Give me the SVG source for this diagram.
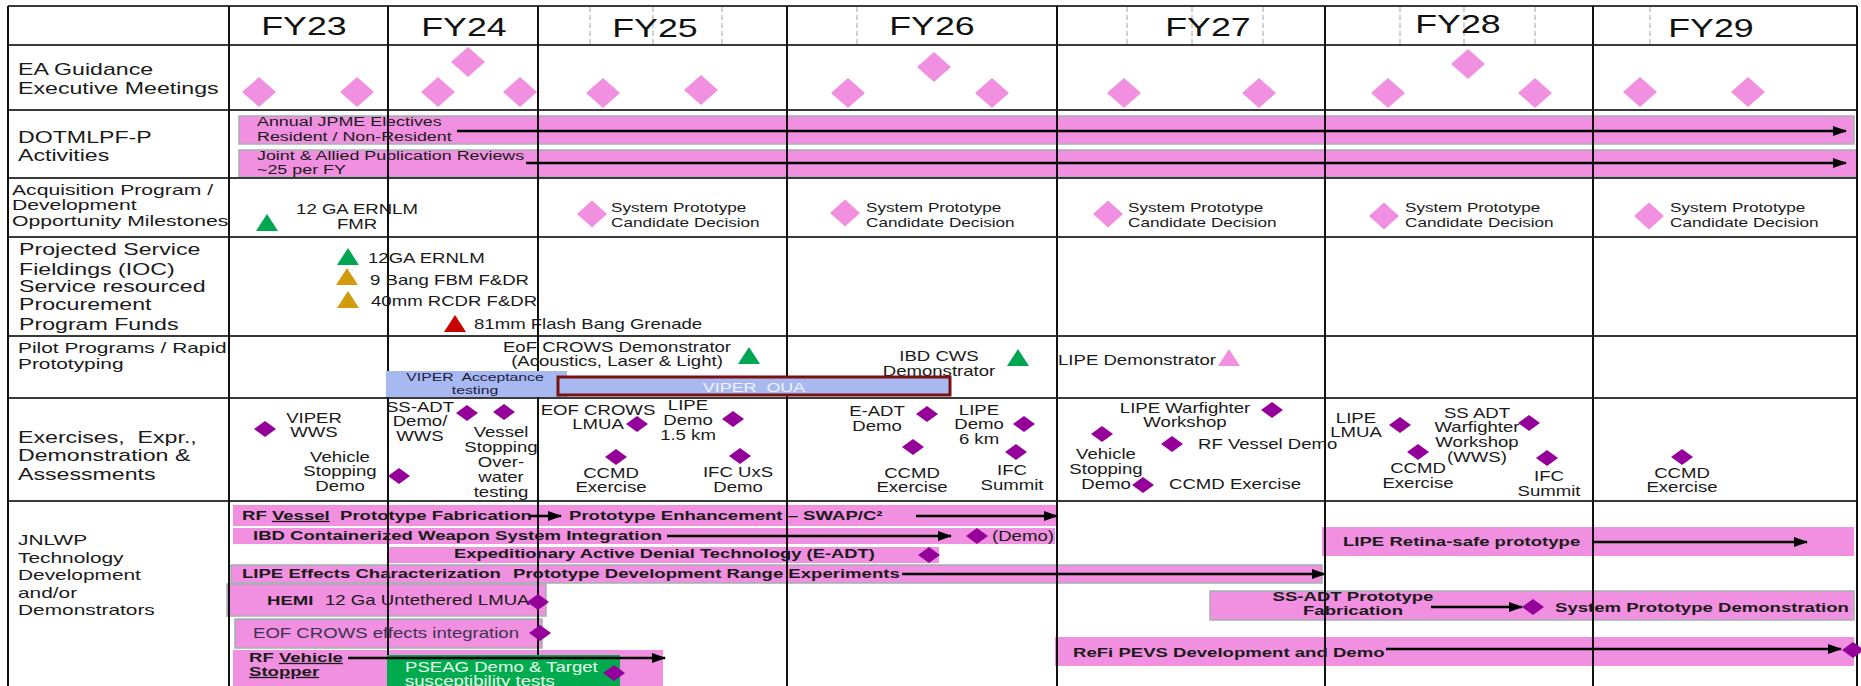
<svg xmlns="http://www.w3.org/2000/svg" width="1861" height="686" viewBox="0 0 1861 686">
<style>
text{font-family:"Liberation Sans",Arial,sans-serif;fill:#1a1a1a}
.b{font-weight:bold}
.m{text-anchor:middle}
.pre{white-space:pre}
.hd{font-size:25px;fill:#111}
.f16{font-size:16.2px}
.f148{font-size:14.8px}
.f145{font-size:14.6px}
.f13{font-size:13.8px}
.fb{font-size:13.3px;font-weight:bold}
.f125{font-size:13.3px}
.f12{font-size:12.8px}
.f11{font-size:11.7px}
.bar{fill:#F190E0}
.barg{fill:#F190E0;stroke:#A3B0B0;stroke-width:1.5}
.vg{stroke:#111;stroke-width:2}
.hg{stroke:#3a3a3a;stroke-width:2}
.dash{stroke:#c4c4c4;stroke-width:1.5;stroke-dasharray:5 3}
.arr{stroke:#000;stroke-width:2.5;fill:none;marker-end:url(#ah)}
.pk{fill:#F190E0}
.pu{fill:#96009A}
</style>
<defs>
<marker id="ah" markerUnits="userSpaceOnUse" markerWidth="14" markerHeight="10" refX="13" refY="5" orient="auto"><path d="M0,0 L14,5 L0,10Z" fill="#000"/></marker>
<path id="de" d="M0,-15 L17,0 L0,15 L-17,0Z"/>
<path id="ds" d="M0,-13.5 L15,0 L0,13.5 L-15,0Z"/>
<path id="dp" d="M0,-8 L11,0 L0,8 L-11,0Z"/>
<path id="tr" d="M0,-9 L11,8 L-11,8Z"/>
</defs>
<rect x="0" y="0" width="1861" height="686" fill="#fff"/>

<g id="bars">
<rect class="barg" x="239" y="116" width="1615" height="28"/>
<rect class="barg" x="239" y="150" width="1618" height="27"/>
<rect class="bar" x="233" y="505" width="823" height="21"/>
<rect class="bar" x="233" y="528" width="822" height="16"/>
<rect class="bar" x="389" y="547" width="550" height="16"/>
<rect class="barg" x="231" y="565" width="1091" height="18"/>
<rect class="barg" x="227" y="584" width="319" height="32"/>
<rect class="barg" x="235" y="619" width="307" height="29"/>
<rect class="bar" x="233" y="650" width="430" height="36"/>
<rect class="bar" x="1322" y="527" width="532" height="29"/>
<rect class="barg" x="1210" y="591" width="644" height="29"/>
<rect class="bar" x="1055" y="637" width="799" height="29"/>
</g>

<g id="grid">
<line class="dash" x1="590" y1="7" x2="590" y2="45"/>
<line class="dash" x1="653" y1="7" x2="653" y2="45"/>
<line class="dash" x1="722" y1="7" x2="722" y2="45"/>
<line class="dash" x1="857" y1="7" x2="857" y2="45"/>
<line class="dash" x1="1127" y1="7" x2="1127" y2="45"/>
<line class="dash" x1="1192" y1="7" x2="1192" y2="45"/>
<line class="dash" x1="1263" y1="7" x2="1263" y2="45"/>
<line class="dash" x1="1400" y1="7" x2="1400" y2="45"/>
<line class="dash" x1="1464" y1="7" x2="1464" y2="45"/>
<line class="dash" x1="1535" y1="7" x2="1535" y2="45"/>
<line class="dash" x1="1650" y1="7" x2="1650" y2="45"/>
<line class="hg" x1="8" y1="6" x2="1857" y2="6"/>
<line class="hg" x1="8" y1="45" x2="1857" y2="45"/>
<line class="hg" x1="8" y1="110" x2="1857" y2="110"/>
<line class="hg" x1="8" y1="178" x2="1857" y2="178"/>
<line class="hg" x1="8" y1="237" x2="1857" y2="237"/>
<line class="hg" x1="8" y1="336" x2="1857" y2="336"/>
<line class="hg" x1="8" y1="398" x2="1857" y2="398"/>
<line class="hg" x1="8" y1="501" x2="1857" y2="501"/>
<line class="vg" x1="8" y1="6" x2="8" y2="686"/>
<line class="vg" x1="229" y1="6" x2="229" y2="686"/>
<line class="vg" x1="388" y1="6" x2="388" y2="686"/>
<line class="vg" x1="538" y1="6" x2="538" y2="686"/>
<line class="vg" x1="787" y1="6" x2="787" y2="686"/>
<line class="vg" x1="1057" y1="6" x2="1057" y2="686"/>
<line class="vg" x1="1325" y1="6" x2="1325" y2="686"/>
<line class="vg" x1="1593" y1="6" x2="1593" y2="686"/>
<line class="vg" x1="1857" y1="6" x2="1857" y2="686"/>
</g>

<g id="header">
<text class="hd m" transform="translate(304 35) scale(1.43 1)">FY23</text>
<text class="hd m" transform="translate(464 36) scale(1.43 1)">FY24</text>
<text class="hd m" transform="translate(655 37) scale(1.43 1)">FY25</text>
<text class="hd m" transform="translate(932 35) scale(1.43 1)">FY26</text>
<text class="hd m" transform="translate(1208 36) scale(1.43 1)">FY27</text>
<text class="hd m" transform="translate(1458 33) scale(1.43 1)">FY28</text>
<text class="hd m" transform="translate(1711 37) scale(1.43 1)">FY29</text>
</g>

<g id="row-ea">
<text class="f16" transform="translate(18 75) scale(1.43 1)"><tspan x="0">EA Guidance</tspan><tspan x="0" y="19">Executive Meetings</tspan></text>
<use href="#de" class="pk" x="259" y="92"/>
<use href="#de" class="pk" x="357" y="92"/>
<use href="#de" class="pk" x="438" y="92"/>
<use href="#de" class="pk" x="468" y="62"/>
<use href="#de" class="pk" x="520" y="92"/>
<use href="#de" class="pk" x="603" y="93"/>
<use href="#de" class="pk" x="701" y="90"/>
<use href="#de" class="pk" x="848" y="93"/>
<use href="#de" class="pk" x="934" y="67"/>
<use href="#de" class="pk" x="992" y="93"/>
<use href="#de" class="pk" x="1124" y="93"/>
<use href="#de" class="pk" x="1259" y="93"/>
<use href="#de" class="pk" x="1388" y="93"/>
<use href="#de" class="pk" x="1468" y="64"/>
<use href="#de" class="pk" x="1535" y="93"/>
<use href="#de" class="pk" x="1640" y="92"/>
<use href="#de" class="pk" x="1748" y="92"/>
</g>

<g id="row-dotmlpf">
<text class="f16" transform="translate(18 143) scale(1.43 1)"><tspan x="0">DOTMLPF-P</tspan><tspan x="0" y="18">Activities</tspan></text>
<text class="f125" transform="translate(257 126) scale(1.344 1)"><tspan x="0">Annual JPME Electives</tspan><tspan x="0" y="15">Resident / Non-Resident</tspan></text>
<text class="f125" transform="translate(257 160) scale(1.344 1)"><tspan x="0">Joint &amp; Allied Publication Reviews</tspan><tspan x="0" y="14">~25 per FY</tspan></text>
</g>

<g id="row-acquisition">
<text class="f148" transform="translate(12 195) scale(1.43 1)"><tspan x="0">Acquisition Program /</tspan><tspan x="0" y="15">Development</tspan><tspan x="0" y="31">Opportunity Milestones</tspan></text>
<use href="#tr" fill="#00A650" x="267" y="223"/>
<text class="f13 m" transform="translate(357 214) scale(1.347 1)"><tspan x="0">12 GA ERNLM</tspan><tspan x="0" y="15">FMR</tspan></text>
<use href="#ds" class="pk" x="592" y="214"/>
<text class="f12" transform="translate(611 212) scale(1.34 1)"><tspan x="0">System Prototype</tspan><tspan x="0" y="15">Candidate Decision</tspan></text>
<use href="#ds" class="pk" x="845" y="213"/>
<text class="f12" transform="translate(866 212) scale(1.34 1)"><tspan x="0">System Prototype</tspan><tspan x="0" y="15">Candidate Decision</tspan></text>
<use href="#ds" class="pk" x="1108" y="214"/>
<text class="f12" transform="translate(1128 212) scale(1.34 1)"><tspan x="0">System Prototype</tspan><tspan x="0" y="15">Candidate Decision</tspan></text>
<use href="#ds" class="pk" x="1384" y="216"/>
<text class="f12" transform="translate(1405 212) scale(1.34 1)"><tspan x="0">System Prototype</tspan><tspan x="0" y="15">Candidate Decision</tspan></text>
<use href="#ds" class="pk" x="1649" y="216"/>
<text class="f12" transform="translate(1670 212) scale(1.34 1)"><tspan x="0">System Prototype</tspan><tspan x="0" y="15">Candidate Decision</tspan></text>
</g>

<g id="row-projected">
<text class="f16" transform="translate(19 255) scale(1.43 1)"><tspan x="0">Projected Service</tspan><tspan x="0" y="20">Fieldings (IOC)</tspan><tspan x="0" y="37">Service resourced</tspan><tspan x="0" y="55">Procurement</tspan><tspan x="0" y="75">Program Funds</tspan></text>
<use href="#tr" fill="#00A650" x="348" y="257"/>
<use href="#tr" fill="#D29B0C" x="347" y="277"/>
<use href="#tr" fill="#D29B0C" x="348" y="300"/>
<use href="#tr" fill="#C80000" x="455" y="324"/>
<text class="f13" transform="translate(368 263) scale(1.347 1)">12GA ERNLM</text>
<text class="f13" transform="translate(370 285) scale(1.347 1)">9 Bang FBM F&amp;DR</text>
<text class="f13" transform="translate(371 306) scale(1.347 1)">40mm RCDR F&amp;DR</text>
<text class="f13" transform="translate(474 329) scale(1.347 1)">81mm Flash Bang Grenade</text>
</g>

<g id="row-pilot">
<text class="f145" transform="translate(18 353) scale(1.43 1)"><tspan x="0">Pilot Programs / Rapid</tspan><tspan x="0" y="16">Prototyping</tspan></text>
<text class="f13 m" transform="translate(617 352) scale(1.347 1)"><tspan x="0">EoF CROWS Demonstrator</tspan><tspan x="0" y="14">(Acoustics, Laser &amp; Light)</tspan></text>
<use href="#tr" fill="#00A650" x="749" y="356"/>
<text class="f13 m" transform="translate(939 361) scale(1.347 1)"><tspan x="0">IBD CWS</tspan><tspan x="0" y="15">Demonstrator</tspan></text>
<use href="#tr" fill="#00A650" x="1018" y="358"/>
<text class="f13" transform="translate(1058 365) scale(1.347 1)">LIPE Demonstrator</text>
<use href="#tr" fill="#F190E0" x="1229" y="358"/>
<rect x="386" y="371" width="181" height="26" fill="#A8B8F0"/>
<text class="f11 m pre" style="fill:#1c1c40" transform="translate(475 381) scale(1.345 1)"><tspan x="0">VIPER  Acceptance</tspan><tspan x="0" y="13">testing</tspan></text>
<rect x="558" y="377" width="392" height="18" fill="#A8B8F0" stroke="#7A1010" stroke-width="3"/>
<text class="f125 m pre" style="fill:#F2F2FF" transform="translate(754 392) scale(1.344 1)">VIPER  OUA</text>
</g>

<g id="row-exercises">
<text class="f16 pre" transform="translate(18 443) scale(1.43 1)"><tspan x="0">Exercises,  Expr.,</tspan><tspan x="0" y="18">Demonstration &amp;</tspan><tspan x="0" y="37">Assessments</tspan></text>
<text class="f13 m" transform="translate(314 423) scale(1.347 1)"><tspan x="0">VIPER</tspan><tspan x="0" y="14">WWS</tspan></text>
<text class="f13 m" transform="translate(340 462) scale(1.347 1)"><tspan x="0">Vehicle</tspan><tspan x="0" y="14">Stopping</tspan><tspan x="0" y="29">Demo</tspan></text>
<text class="f13 m" transform="translate(420 412) scale(1.347 1)"><tspan x="0">SS-ADT</tspan><tspan x="0" y="14">Demo/</tspan><tspan x="0" y="29">WWS</tspan></text>
<text class="f13 m" transform="translate(501 437) scale(1.347 1)"><tspan x="0">Vessel</tspan><tspan x="0" y="15">Stopping</tspan><tspan x="0" y="30">Over-</tspan><tspan x="0" y="45">water</tspan><tspan x="0" y="60">testing</tspan></text>
<text class="f13 m" transform="translate(598 415) scale(1.347 1)"><tspan x="0">EOF CROWS</tspan><tspan x="0" y="14">LMUA</tspan></text>
<text class="f13 m" transform="translate(688 410) scale(1.347 1)"><tspan x="0">LIPE</tspan><tspan x="0" y="15">Demo</tspan><tspan x="0" y="30">1.5 km</tspan></text>
<text class="f13 m" transform="translate(611 478) scale(1.347 1)"><tspan x="0">CCMD</tspan><tspan x="0" y="14">Exercise</tspan></text>
<text class="f13 m" transform="translate(738 477) scale(1.347 1)"><tspan x="0">IFC UxS</tspan><tspan x="0" y="15">Demo</tspan></text>
<text class="f13 m" transform="translate(877 416) scale(1.347 1)"><tspan x="0">E-ADT</tspan><tspan x="0" y="15">Demo</tspan></text>
<text class="f13 m" transform="translate(912 478) scale(1.347 1)"><tspan x="0">CCMD</tspan><tspan x="0" y="14">Exercise</tspan></text>
<text class="f13 m" transform="translate(979 415) scale(1.347 1)"><tspan x="0">LIPE</tspan><tspan x="0" y="14">Demo</tspan><tspan x="0" y="29">6 km</tspan></text>
<text class="f13 m" transform="translate(1012 475) scale(1.347 1)"><tspan x="0">IFC</tspan><tspan x="0" y="15">Summit</tspan></text>
<text class="f13 m" transform="translate(1185 413) scale(1.347 1)"><tspan x="0">LIPE Warfighter</tspan><tspan x="0" y="14">Workshop</tspan></text>
<text class="f13 m" transform="translate(1106 459) scale(1.347 1)"><tspan x="0">Vehicle</tspan><tspan x="0" y="15">Stopping</tspan><tspan x="0" y="30">Demo</tspan></text>
<text class="f13" transform="translate(1198 449) scale(1.347 1)">RF Vessel Demo</text>
<text class="f13" transform="translate(1169 489) scale(1.347 1)">CCMD Exercise</text>
<text class="f13 m" transform="translate(1356 423) scale(1.347 1)"><tspan x="0">LIPE</tspan><tspan x="0" y="14">LMUA</tspan></text>
<text class="f13 m" transform="translate(1418 473) scale(1.347 1)"><tspan x="0">CCMD</tspan><tspan x="0" y="15">Exercise</tspan></text>
<text class="f13 m" transform="translate(1477 418) scale(1.347 1)"><tspan x="0">SS ADT</tspan><tspan x="0" y="14">Warfighter</tspan><tspan x="0" y="29">Workshop</tspan><tspan x="0" y="44">(WWS)</tspan></text>
<text class="f13 m" transform="translate(1549 481) scale(1.347 1)"><tspan x="0">IFC</tspan><tspan x="0" y="15">Summit</tspan></text>
<text class="f13 m" transform="translate(1682 478) scale(1.347 1)"><tspan x="0">CCMD</tspan><tspan x="0" y="14">Exercise</tspan></text>
<use href="#dp" class="pu" x="265" y="429"/>
<use href="#dp" class="pu" x="399" y="476"/>
<use href="#dp" class="pu" x="467" y="413"/>
<use href="#dp" class="pu" x="504" y="412"/>
<use href="#dp" class="pu" x="637" y="424"/>
<use href="#dp" class="pu" x="733" y="419"/>
<use href="#dp" class="pu" x="616" y="457"/>
<use href="#dp" class="pu" x="740" y="456"/>
<use href="#dp" class="pu" x="927" y="414"/>
<use href="#dp" class="pu" x="913" y="447"/>
<use href="#dp" class="pu" x="1024" y="424"/>
<use href="#dp" class="pu" x="1016" y="452"/>
<use href="#dp" class="pu" x="1272" y="410"/>
<use href="#dp" class="pu" x="1102" y="434"/>
<use href="#dp" class="pu" x="1143" y="485"/>
<use href="#dp" class="pu" x="1172" y="444"/>
<use href="#dp" class="pu" x="1400" y="425"/>
<use href="#dp" class="pu" x="1418" y="452"/>
<use href="#dp" class="pu" x="1529" y="423"/>
<use href="#dp" class="pu" x="1547" y="458"/>
<use href="#dp" class="pu" x="1682" y="457"/>
</g>

<g id="row-jnlwp">
<text class="f145" transform="translate(18 545) scale(1.43 1)"><tspan x="0">JNLWP</tspan><tspan x="0" y="18">Technology</tspan><tspan x="0" y="35">Development</tspan><tspan x="0" y="53">and/or</tspan><tspan x="0" y="70">Demonstrators</tspan></text>
<rect x="387" y="655" width="233" height="31" fill="#00AA4F"/>
<text class="fb pre" transform="translate(242 520) scale(1.397 1)">RF <tspan text-decoration="underline">Vessel</tspan>  Prototype Fabrication</text>
<text class="fb" transform="translate(569 520) scale(1.397 1)">Prototype Enhancement – SWAP/C²</text>
<text class="fb" transform="translate(253 540) scale(1.397 1)">IBD Containerized Weapon System Integration</text>
<text class="f13" transform="translate(992 541) scale(1.347 1)">(Demo)</text>
<text class="fb" transform="translate(454 558) scale(1.38 1)">Expeditionary Active Denial Technology (E-ADT)</text>
<text class="fb" transform="translate(242 578) scale(1.397 1)">LIPE Effects Characterization</text>
<text class="fb" transform="translate(513 578) scale(1.397 1)">Prototype Development Range Experiments</text>
<text class="fb" transform="translate(267 605) scale(1.397 1)">HEMI</text>
<text class="f13" transform="translate(325 605) scale(1.347 1)">12 Ga Untethered LMUA</text>
<text class="f13" style="fill:#3e3050" transform="translate(253 638) scale(1.347 1)">EOF CROWS effects integration</text>
<text class="fb" transform="translate(249 662) scale(1.397 1)"><tspan x="0">RF <tspan text-decoration="underline">Vehicle</tspan></tspan><tspan x="0" y="14" text-decoration="underline">Stopper</tspan></text>
<text class="f13" style="fill:#E6FFE6" transform="translate(405 672) scale(1.347 1)"><tspan x="0">PSEAG Demo &amp; Target</tspan><tspan x="0" y="14">susceptibility tests</tspan></text>
<text class="fb" transform="translate(1343 546) scale(1.397 1)">LIPE Retina-safe prototype</text>
<text class="fb m" transform="translate(1353 601) scale(1.397 1)"><tspan x="0">SS-ADT Prototype</tspan><tspan x="0" y="14">Fabrication</tspan></text>
<text class="fb" transform="translate(1555 612) scale(1.397 1)">System Prototype Demonstration</text>
<text class="fb" transform="translate(1073 657) scale(1.397 1)">ReFi PEVS Development and Demo</text>
</g>

<g id="connectors">
<line class="arr" x1="457" y1="131" x2="1846" y2="131"/>
<line class="arr" x1="526" y1="163" x2="1846" y2="163"/>
<line class="arr" x1="530" y1="516" x2="561" y2="516"/>
<line class="arr" x1="916" y1="516" x2="1057" y2="516"/>
<line class="arr" x1="667" y1="536" x2="951" y2="536"/>
<line class="arr" x1="902" y1="574" x2="1325" y2="574"/>
<line class="arr" x1="348" y1="658" x2="665" y2="658"/>
<line class="arr" x1="1592" y1="542" x2="1807" y2="542"/>
<line class="arr" x1="1431" y1="607" x2="1522" y2="607"/>
<line class="arr" x1="1386" y1="649" x2="1841" y2="649"/>
</g>

<g id="jnlwp-milestones">
<use href="#dp" class="pu" x="977" y="536"/>
<use href="#dp" class="pu" x="929" y="555"/>
<use href="#dp" class="pu" x="538" y="602"/>
<use href="#dp" class="pu" x="540" y="633"/>
<use href="#dp" class="pu" x="614" y="673"/>
<use href="#dp" class="pu" x="1533" y="607"/>
<use href="#dp" class="pu" x="1853" y="650"/>
</g>
</svg>
